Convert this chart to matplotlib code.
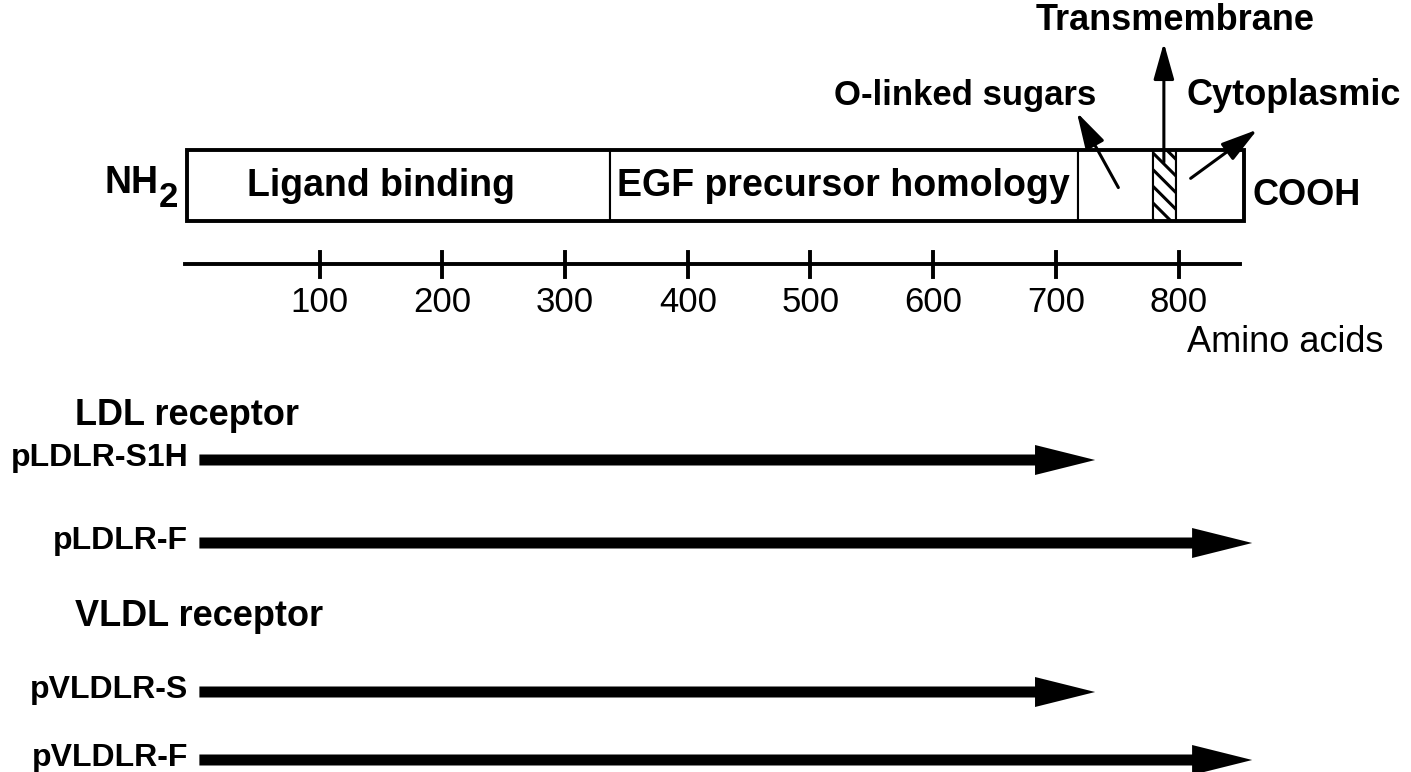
import matplotlib
matplotlib.use("Agg")
import matplotlib.pyplot as plt
from matplotlib.patches import Rectangle, FancyArrow

plt.rcParams['font.family'] = ['Liberation Sans', 'DejaVu Sans']
plt.rcParams['hatch.linewidth'] = 2.2

# domain boundaries of the receptor (amino acids)
domain_edges = [-8, 337, 718, 779, 798, 853]
domain_labels = ["Ligand binding", "EGF precursor homology"]
domain_label_pos = [150, 527]

# amino acid scale
tick_values = [100, 200, 300, 400, 500, 600, 700, 800]
scale_start, scale_end = -10, 850

# cDNA constructs: name, start and end (amino acids), row (pixel y)
construct_names = ["pLDLR-S1H", "pLDLR-F", "pVLDLR-S", "pVLDLR-F"]
construct_start = [2, 2, 2, 2]
construct_end = [732, 860, 732, 860]
construct_rows = [460, 543, 692, 760]

group_names = ["LDL receptor", "VLDL receptor"]
group_rows = [425, 626]

fig = plt.figure(figsize=(14.11, 7.72), dpi=100)
ax = fig.add_axes([0, 0, 1, 1])
# x axis in amino acids, y axis in pixels from the top
ax.set_xlim(-160.5, 989.4)
ax.set_ylim(772, 0)
ax.axis("off")

box_top, box_bot = 150, 221
# domain box
for i in range(len(domain_edges) - 1):
    x0, x1 = domain_edges[i], domain_edges[i + 1]
    hatch = "\\\\" if i == 3 else None
    ax.add_patch(Rectangle((x0, box_top), x1 - x0, box_bot - box_top,
                           facecolor="white", edgecolor="black", lw=1.5,
                           hatch=hatch, zorder=2))
ax.add_patch(Rectangle((domain_edges[0], box_top), domain_edges[-1] - domain_edges[0],
                       box_bot - box_top, fill=False, edgecolor="black", lw=2.8, zorder=3))

for lab, xp in zip(domain_labels, domain_label_pos):
    ax.text(xp, 186, lab, ha="center", va="center", fontsize=27, fontweight="bold")

ax.text(-75, 193, "NH", ha="left", va="baseline", fontsize=27, fontweight="bold")
ax.text(-31, 207, "2", ha="left", va="baseline", fontsize=25, fontweight="bold")
ax.text(860, 205, "COOH", ha="left", va="baseline", fontsize=26, fontweight="bold")

# region labels with arrows
ax.text(797, 30, "Transmembrane", ha="center", va="baseline", fontsize=26, fontweight="bold")
ax.text(626, 105, "O-linked sugars", ha="center", va="baseline", fontsize=25, fontweight="bold")
ax.text(894, 105, "Cytoplasmic", ha="center", va="baseline", fontsize=26, fontweight="bold")

arrow_kw = dict(arrowstyle="-|>,head_length=1.6,head_width=0.45", lw=2.2,
                color="black", mutation_scale=14)
ax.annotate("", xy=(788, 40), xytext=(788, 165), arrowprops=arrow_kw, zorder=4)
ax.annotate("", xy=(716, 110), xytext=(752, 190), arrowprops=arrow_kw, zorder=4)
ax.annotate("", xy=(866, 128), xytext=(808, 180), arrowprops=arrow_kw, zorder=4)

# amino acid scale
ax.plot([scale_start, scale_end], [264, 264], color="black", lw=2.8)
for t in tick_values:
    ax.plot([t, t], [252, 277], color="black", lw=2.8)
    ax.text(t, 312, str(t), ha="center", va="baseline", fontsize=25)
ax.text(807, 352, "Amino acids", ha="left", va="baseline", fontsize=26)

# constructs
for name, y in zip(group_names, group_rows):
    ax.text(-99, y, name, ha="left", va="baseline", fontsize=26, fontweight="bold")

for name, x0, x1, y in zip(construct_names, construct_start, construct_end, construct_rows):
    ax.add_patch(FancyArrow(x0, y, x1 - x0, 0, width=11, head_width=30,
                            head_length=49, length_includes_head=True,
                            color="black", lw=0))
    ax.text(-7, y - 2, name, ha="right", va="center", fontsize=23, fontweight="bold")

fig.savefig("out.png", dpi=100)
